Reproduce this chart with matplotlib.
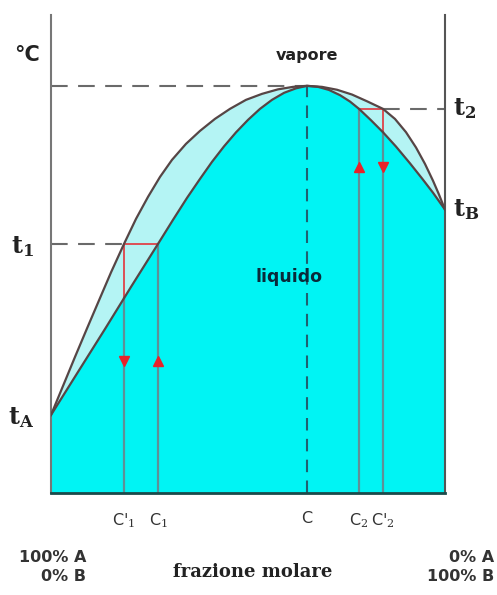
import matplotlib.pyplot as plt

plt.rcParams['mathtext.fontset'] = 'dejavuserif'

# composizione (% di B) e temperatura (unita' arbitrarie)
x_vap = [0, 3.05, 6.09, 9.14, 12.18, 15.23, 18.53, 21.57, 24.62, 27.67, 30.71, 34.26, 37.82,
         41.62, 45.43, 49.49, 53.55, 57.61, 61.42, 64.97, 68.78, 72.59, 76.40, 80.20, 84.26,
         87.31, 90.10, 92.64, 94.92, 96.95, 98.48, 100]
t_vap = [19.16, 26.29, 33.42, 40.42, 47.30, 54.18, 61.18, 67.32, 72.73, 77.64, 81.82, 85.75, 88.94,
         91.89, 94.35, 96.56, 98.03, 99.14, 99.75, 100.0, 99.75, 99.04, 97.86, 96.21, 94.35,
         91.87, 88.62, 84.86, 80.83, 76.71, 73.29, 69.6]
x_liq = [0, 6.85, 13.71, 20.30, 27.16, 30.96, 34.52, 37.82, 40.86, 43.91, 46.95, 50.0, 53.05,
         56.09, 59.14, 62.18, 64.97, 67.77, 70.56, 73.35, 75.89, 78.17, 81.22, 84.26, 87.56,
         91.12, 94.16, 96.95, 100]
t_liq = [19.16, 29.73, 40.29, 50.61, 61.18, 67.08, 72.48, 77.15, 81.33, 85.13, 88.57, 91.64, 94.35,
         96.56, 98.28, 99.39, 100.0, 99.75, 98.99, 97.71, 96.14, 94.35, 91.55, 88.60, 85.09,
         80.96, 77.27, 73.76, 69.6]

t_A, t_B = 19.16, 69.6
t_az, x_az = 100.0, 64.97
t_1, t_2 = 61.18, 94.35
c1p, c1 = 18.53, 27.16
c2, c2p = 78.17, 84.26
liq_at_c1p, liq_at_c2p = 47.84, 88.60
arrow_t1, arrow_t2 = 32.5, 80.0

x_labels = [r"C$'_1$", r"C$_1$", "C", r"C$_2$", r"C$'_2$"]
x_pos = [c1p, c1, x_az, c2, c2p]

CYAN = '#00f4f4'
LIGHT = '#b4f4f4'
CURVE = '#574545'
GRAY = '#6a6a6a'
VLINE = '#5f9098'
RED = '#e8222a'

fig = plt.figure(figsize=(4.97, 5.95), dpi=100)
ax = fig.add_axes([51 / 497, 102 / 595, 394 / 497, 478 / 595])
ax.set_xlim(0, 100)
ax.set_ylim(0, 117.4)

# regioni colorate
ax.fill(x_liq + [100, 0], t_liq + [0, 0], color=CYAN, lw=0, zorder=1)
ax.fill(x_vap + x_liq[::-1], t_vap + t_liq[::-1], color=LIGHT, lw=0, zorder=1)

# linee tratteggiate
dash = (0, (8, 5))
ax.plot([0, x_az], [t_az, t_az], color=GRAY, lw=1.5, ls=dash, zorder=2)
ax.plot([0, c1p], [t_1, t_1], color=GRAY, lw=1.5, ls=dash, zorder=2)
ax.plot([c2p, 100], [t_2, t_2], color=GRAY, lw=1.5, ls=dash, zorder=2)
ax.plot([x_az, x_az], [0, t_az], color='#1f6070', lw=1.5, ls=(0, (6, 4)), zorder=2)

# verticali delle composizioni
ax.plot([c1p, c1p], [0, liq_at_c1p], color=VLINE, lw=1.6, zorder=2)
ax.plot([c1, c1], [0, t_1], color=VLINE, lw=1.6, zorder=2)
ax.plot([c2, c2], [0, t_2], color=VLINE, lw=1.6, zorder=2)
ax.plot([c2p, c2p], [0, liq_at_c2p], color=VLINE, lw=1.6, zorder=2)
ax.plot([c1p, c1p], [liq_at_c1p, t_1], color=RED, lw=1.1, zorder=3)
ax.plot([c2p, c2p], [liq_at_c2p, t_2], color=RED, lw=1.1, zorder=3)
ax.plot([c1p, c1], [t_1, t_1], color=RED, lw=1.1, zorder=3)
ax.plot([c2, c2p], [t_2, t_2], color=RED, lw=1.1, zorder=3)

# curve
ax.plot(x_vap, t_vap, color=CURVE, lw=1.6, zorder=4, solid_joinstyle='round')
ax.plot(x_liq, t_liq, color=CURVE, lw=1.6, zorder=4, solid_joinstyle='round')

# frecce
ax.plot([c1p], [arrow_t1], marker='v', ms=7, color=RED, zorder=5)
ax.plot([c1], [arrow_t1], marker='^', ms=7, color=RED, zorder=5)
ax.plot([c2], [arrow_t2], marker='^', ms=7, color=RED, zorder=5)
ax.plot([c2p], [arrow_t2], marker='v', ms=7, color=RED, zorder=5)

# assi
ax.spines['top'].set_visible(False)
ax.spines['left'].set_color('#777777')
ax.spines['right'].set_color('#555555')
ax.spines['left'].set_linewidth(1.5)
ax.spines['right'].set_linewidth(1.5)
ax.spines['bottom'].set_color('#1a4a4a')
ax.spines['bottom'].set_linewidth(2)

ax.set_xticks(x_pos)
ax.set_xticklabels(x_labels, fontsize=11.5, color='#333333')
ax.tick_params(axis='x', length=0, pad=13)
ax.set_yticks([t_A, t_1])
ax.set_yticklabels([r"$\mathbf{t_A}$", r"$\mathbf{t_1}$"], fontsize=17, color='#222222')
ax.tick_params(axis='y', length=0, pad=12)

ax.text(102, t_2, r"$\mathbf{t_2}$", fontsize=17, color='#222222', va='center', ha='left')
ax.text(102, t_B, r"$\mathbf{t_B}$", fontsize=17, color='#222222', va='center', ha='left')
ax.text(-6, 107.5, "°C", fontsize=15, fontweight='bold', color='#222222', ha='center', va='center')

ax.text(x_az, 107.5, "vapore", fontsize=11.5, fontweight='bold',
        color='#222222', ha='center', va='center')
ax.text(60.5, 53.0, "liquido", fontsize=12.5, fontweight='bold', color='#0a2a3a',
        ha='center', va='center')

fig.text(86 / 497, 1 - 567 / 595, "100% A\n0% B", fontsize=11.5, fontweight='bold',
         color='#333333', ha='right', va='center', linespacing=1.3)
fig.text(494 / 497, 1 - 567 / 595, "0% A\n100% B", fontsize=11.5, fontweight='bold',
         color='#333333', ha='right', va='center', linespacing=1.3)
fig.text(253 / 497, 1 - 572 / 595, "frazione molare", fontsize=13, fontweight='bold',
         family='DejaVu Serif', color='#222222', ha='center', va='center')

fig.savefig('out.png', dpi=100)
